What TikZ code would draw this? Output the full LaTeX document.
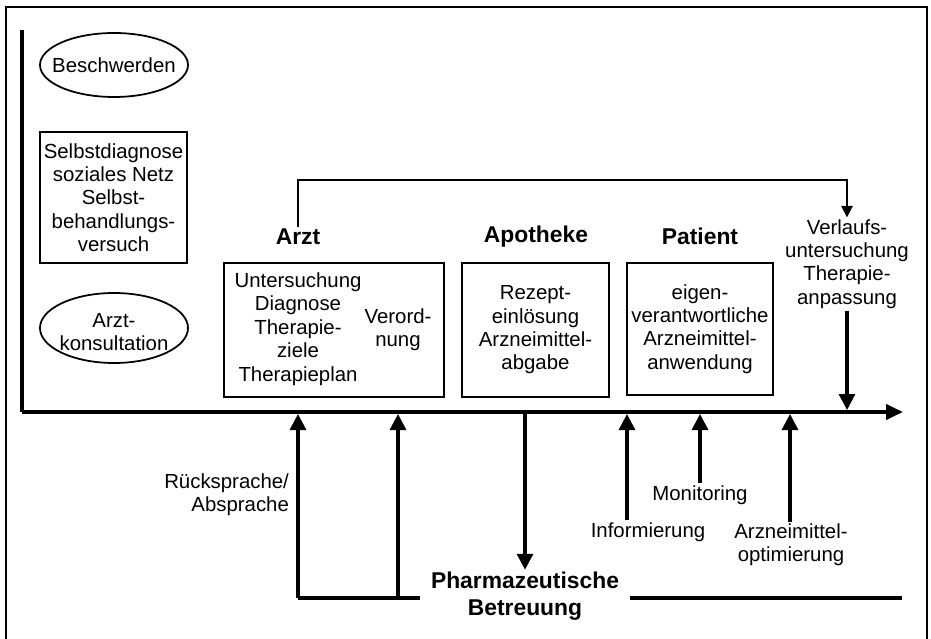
\documentclass[tikz,border=0pt]{standalone}
\usepackage{fontspec}
\setsansfont{Liberation Sans}
\usepackage{tikz}
\usetikzlibrary{arrows.meta, shapes.geometric, positioning}

\begin{document}
\begin{tikzpicture}[x=0.2mm, y=-0.2mm,
    txt/.style={font=\sffamily\fontsize{11.6}{13.3}\selectfont, align=center, inner sep=1pt},
    hdr/.style={font=\sffamily\bfseries\fontsize{13}{15.3}\selectfont, align=center, inner sep=1pt},
    boxnode/.style={draw, line width=1.1pt, inner sep=0pt},
    ellnode/.style={draw, ellipse, line width=1pt, inner sep=0pt},
    axisline/.style={line width=2.2pt},
    thickarr/.style={line width=1.8pt, -{Triangle[length=3.2mm, width=3.2mm]}},
    thinarr/.style={line width=0.9pt, -{Triangle[length=2.3mm, width=2.3mm]}}]
    \useasboundingbox (0,0) rectangle (931,639);

    % frame, open at the bottom
    \draw [line width=1.3pt] (6,639) -- (6,7) -- (927,7) -- (927,639);

    % axes
    \coordinate (ytop) at (22,30);
    \coordinate (origin) at (22,412);
    \coordinate (xend) at (903,412);
    \draw [axisline] (ytop) -- (origin);
    \draw [axisline, -{Triangle[length=3.4mm, width=3mm]}] (origin) -- (xend);

    % left column
    \node [ellnode, minimum width=29.6mm, minimum height=12.8mm] (beschw) at (114,65) {};
    \node [txt] (beschwtxt) at (beschw.center) {Beschwerden};
    \node [boxnode, minimum width=29.4mm, minimum height=26.2mm, txt] (selbst) at (113.5,197.5)
      {Selbstdiagnose\\soziales Netz\\Selbst-\\behandlungs-\\versuch};
    \node [ellnode, minimum width=29.6mm, minimum height=14mm] (konsult) at (114,328) {};
    \node [txt] (konsulttxt) at (114,332) {Arzt-\\konsultation};

    % stations
    \node [hdr] (arzt) at (298,237) {Arzt};
    \node [hdr] (apo) at (536,237) {Apotheke};
    \node [hdr] (pat) at (700,236) {Patient};

    \node [boxnode, minimum width=44mm, minimum height=26.8mm] (arztbox) at (334,330) {};
    \node [txt] (unters) at (298,329) {Untersuchung\\Diagnose\\Therapie-\\ziele\\Therapieplan};
    \node [txt] (verord) at (398,330) {Verord-\\nung};

    \node [boxnode, minimum width=29.4mm, minimum height=26.8mm, txt] (apobox) at (535.5,330)
      {Rezept-\\einlösung\\Arzneimittel-\\abgabe};
    \node [boxnode, minimum width=29.2mm, minimum height=26.4mm, txt] (patbox) at (700,329)
      {eigen-\\verantwortliche\\Arzneimittel-\\anwendung};

    \node [txt] (verlauf) at (847,264) {Verlaufs-\\untersuchung\\Therapie-\\anpassung};

    % follow-up connector
    \coordinate (toprow) at (0,180);
    \draw [thinarr] (arzt.north) -- (arzt.north |- toprow) -| (verlauf.north);
    \coordinate (a0) at (847,410);
    \draw [thickarr] (verlauf.south) -- (a0);

    % pharmaceutical care
    \node [hdr] (pharm) at (525,596) {Pharmazeutische\\Betreuung};
    \coordinate (a1) at (298,414);
    \coordinate (a2) at (398,414);
    \coordinate (a3) at (525,412);
    \coordinate (a4) at (627,414);
    \coordinate (a5) at (700,414);
    \coordinate (a6) at (790,414);
    \coordinate (baseL) at (420,598);
    \coordinate (baseR1) at (630,598);
    \coordinate (baseR2) at (902,598);

    \draw [line width=1.8pt] (a1 |- baseL) -- (baseL);
    \draw [thickarr] (a1 |- baseL) -- (a1);
    \draw [thickarr] (a2 |- baseL) -- (a2);
    \draw [thickarr] (a3) -- (pharm.north);
    \draw [line width=1.8pt] (baseR1) -- (baseR2);

    \node [txt, anchor=east, align=right] (rueck) at (291,495) {Rücksprache/\\Absprache};
    \node [txt] (info) at (648,532) {Informierung};
    \node [txt] (monit) at (700,495) {Monitoring};
    \node [txt] (optim) at (791,545) {Arzneimittel-\\optimierung};

    \draw [thickarr] (info.north -| a4) -- (a4);
    \draw [thickarr] (monit.north) -- (a5);
    \draw [thickarr] (optim.north -| a6) -- (a6);
  \end{tikzpicture}
\end{document}
